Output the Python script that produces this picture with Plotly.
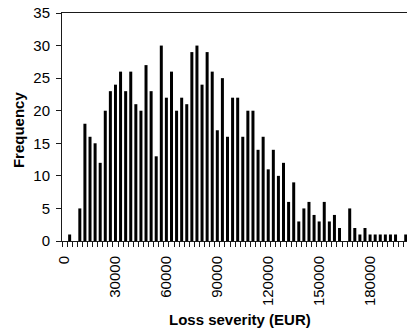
import plotly.graph_objects as go

# Loss-severity bins (lower bound of each 3000 EUR bin)
bin_width = 3000
bin_starts = list(range(0, 68 * bin_width, bin_width))

# Number of losses observed in each bin
frequency = [
    0, 1, 0, 5, 18, 16, 15, 12, 20, 23,
    24, 26, 23, 26, 21, 20, 27, 23, 13, 30,
    22, 26, 20, 22, 21, 29, 30, 24, 29, 26,
    17, 25, 16, 22, 22, 16, 20, 20, 14, 16,
    11, 14, 10, 12, 6, 9, 3, 5, 6, 4,
    3, 6, 3, 4, 2, 0, 5, 2, 1, 2,
    1, 1, 1, 1, 1, 1, 0, 1,
]

x_tick_vals = [0, 30000, 60000, 90000, 120000, 150000, 180000]
x_tick_text = ["0", "30000", "60000", "90000", "120000", "150000", "180000"]
y_tick_vals = [0, 5, 10, 15, 20, 25, 30, 35]

FONT = "Arial, Liberation Sans, sans-serif"
AXIS_COLOR = "#1a1a1a"
x_range = [-bin_width / 2, 201750]
y_range = [0, 35]

fig = go.Figure()
fig.add_trace(go.Bar(
    x=bin_starts,
    y=frequency,
    marker=dict(color="black", line=dict(width=0)),
    hoverinfo="x+y",
))

fig.update_layout(
    width=407,
    height=329,
    margin=dict(l=62, r=0, t=13, b=88),
    paper_bgcolor="white",
    plot_bgcolor="white",
    bargap=0.41,
    showlegend=False,
    font=dict(family=FONT, size=15, color="black"),
    xaxis=dict(
        range=x_range,
        showgrid=False,
        zeroline=False,
        showline=True,
        linecolor=AXIS_COLOR,
        linewidth=1,
        mirror=True,
        tickmode="array",
        tickvals=x_tick_vals,
        ticktext=x_tick_text,
        tickangle=-90,
        ticks="outside",
        ticklen=6,
        tickcolor="rgba(0,0,0,0)",
        ticklabelstandoff=2,
        tickfont=dict(family=FONT, size=15, color="black"),
        minor=dict(
            ticks="outside",
            tick0=-bin_width / 2,
            dtick=bin_width,
            ticklen=5,
            tickcolor=AXIS_COLOR,
            tickwidth=1,
            showgrid=False,
        ),
    ),
    xaxis2=dict(
        overlaying="x",
        anchor="y",
        side="bottom",
        range=x_range,
        showgrid=False,
        zeroline=False,
        showline=False,
        showticklabels=False,
        ticks="",
        minor=dict(
            ticks="inside",
            tick0=-bin_width / 2,
            dtick=bin_width,
            ticklen=4,
            tickcolor=AXIS_COLOR,
            tickwidth=1,
            showgrid=False,
        ),
    ),
    yaxis=dict(
        range=y_range,
        showgrid=False,
        zeroline=False,
        showline=True,
        linecolor=AXIS_COLOR,
        linewidth=1,
        tickmode="array",
        tickvals=y_tick_vals,
        ticks="outside",
        ticklen=5,
        tickcolor=AXIS_COLOR,
        ticklabelstandoff=3,
        tickfont=dict(family=FONT, size=15, color="black"),
    ),
    yaxis2=dict(
        overlaying="y",
        anchor="x",
        side="left",
        range=y_range,
        showgrid=False,
        zeroline=False,
        showline=False,
        showticklabels=False,
        tickmode="array",
        tickvals=y_tick_vals,
        ticks="inside",
        ticklen=5,
        tickcolor=AXIS_COLOR,
    ),
    annotations=[
        dict(
            text="<b>Loss severity (EUR)</b>",
            xref="paper", yref="paper",
            x=0.517, y=-0.346,
            xanchor="center", yanchor="middle",
            showarrow=False,
            font=dict(family=FONT, size=15, color="black"),
        ),
        dict(
            text="<b>Frequency</b>",
            xref="paper", yref="paper",
            x=-0.128, y=0.49,
            xanchor="center", yanchor="middle",
            textangle=-90,
            showarrow=False,
            font=dict(family=FONT, size=15, color="black"),
        ),
    ],
)

fig.write_html("out.html")
